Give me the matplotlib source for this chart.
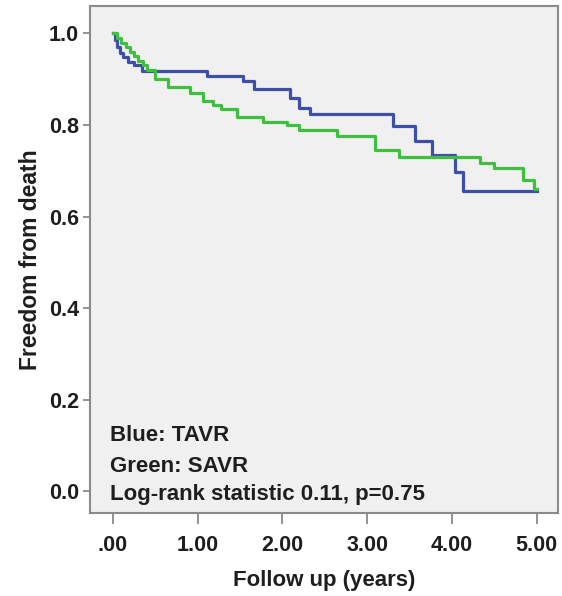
"""Kaplan-Meier style freedom-from-death curves, TAVR vs SAVR."""
import matplotlib
matplotlib.use("Agg")
import matplotlib.pyplot as plt

plt.rcParams['font.family'] = ['Liberation Sans', 'DejaVu Sans']

BLUE = "#3d4fa6"
GREEN = "#3fbf3f"
PANEL = "#f0f0f0"
FRAME = "#8a8a8a"
TEXT = "#1e1e1e"

# step curves (years, survival)
tavr_t = [0, 0.03, 0.05, 0.08, 0.12, 0.18, 0.25, 0.34, 1.11, 1.53, 1.66,
          2.09, 2.20, 2.32, 3.30, 3.56, 3.76, 4.03, 4.13, 5.0]
tavr_s = [1.0, 0.985, 0.97, 0.958, 0.948, 0.937, 0.93, 0.919, 0.908, 0.897,
          0.878, 0.86, 0.838, 0.823, 0.797, 0.766, 0.734, 0.697, 0.655, 0.655]

savr_t = [0, 0.05, 0.10, 0.15, 0.20, 0.25, 0.30, 0.35, 0.40, 0.50, 0.65,
          0.91, 1.06, 1.18, 1.28, 1.46, 1.77, 2.05, 2.20, 2.64, 3.09, 3.38,
          4.33, 4.50, 4.84, 4.97, 5.0]
savr_s = [1.0, 0.99, 0.98, 0.97, 0.96, 0.95, 0.94, 0.93, 0.92, 0.90, 0.882,
          0.869, 0.853, 0.843, 0.834, 0.817, 0.806, 0.799, 0.788, 0.777,
          0.745, 0.729, 0.718, 0.705, 0.679, 0.66, 0.66]

x_ticks = [0, 1, 2, 3, 4, 5]
x_labels = [".00", "1.00", "2.00", "3.00", "4.00", "5.00"]
y_ticks = [0.0, 0.2, 0.4, 0.6, 0.8, 1.0]
y_labels = ["0.0", "0.2", "0.4", "0.6", "0.8", "1.0"]

notes = ["Blue: TAVR", "Green: SAVR", "Log-rank statistic 0.11, p=0.75"]

fig = plt.figure(figsize=(5.62, 5.96), dpi=100, facecolor="white")
ax = fig.add_axes([0.160, 0.139, 0.833, 0.851])
ax.set_facecolor(PANEL)

ax.step(tavr_t, tavr_s, where="post", color=BLUE, lw=2.3, zorder=3)
ax.step(savr_t, savr_s, where="post", color=GREEN, lw=2.3, zorder=4)

ax.set_xlim(-0.27, 5.25)
ax.set_ylim(-0.048, 1.06)

ax.set_xticks(x_ticks)
ax.set_xticklabels(x_labels)
ax.set_yticks(y_ticks)
ax.set_yticklabels(y_labels)

for sp in ax.spines.values():
    sp.set_color(FRAME)
    sp.set_linewidth(1.5)

ax.tick_params(axis="both", colors=FRAME, width=1.3, direction="out",
               labelsize=15.5, labelcolor=TEXT)
ax.tick_params(axis="x", length=8, pad=8)
ax.tick_params(axis="y", length=5, pad=3)
for lab in ax.get_xticklabels() + ax.get_yticklabels():
    lab.set_fontweight("bold")

ax.set_xlabel("Follow up (years)", fontsize=16, fontweight="bold", color=TEXT, labelpad=10)
ax.set_ylabel("Freedom from death", fontsize=16.5, fontweight="bold", color=TEXT, labelpad=5)

note_y = [0.122, 0.055, -0.007]
for txt, yy in zip(notes, note_y):
    ax.text(-0.03, yy, txt, fontsize=16, fontweight="bold", color=TEXT,
            ha="left", va="center", zorder=5)

plt.savefig("out.png", dpi=100, facecolor="white")
plt.close()
